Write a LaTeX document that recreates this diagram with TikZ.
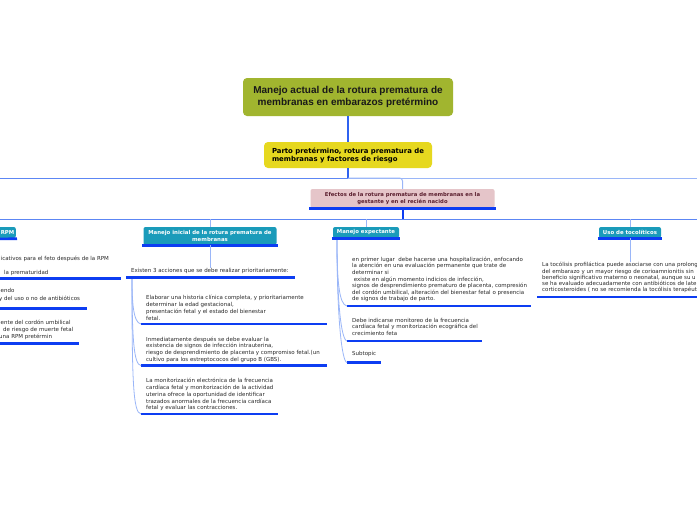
\documentclass[tikz,border=0pt]{standalone}
\usepackage{fontspec}
\setmainfont{DejaVu Sans}
\newfontfamily\titlefont{Liberation Sans}
\definecolor{titlegreen}{HTML}{A1B52F}
\definecolor{ylw}{HTML}{E6D81F}
\definecolor{pnk}{HTML}{E5C5C9}
\definecolor{pnktext}{HTML}{5A1E2E}
\definecolor{tealbg}{HTML}{1A9BBA}
\definecolor{ublue}{HTML}{0D3DF2}
\definecolor{mblue}{HTML}{2F62F0}
\definecolor{busblue}{HTML}{5C86F4}
\definecolor{lblue}{HTML}{9AB6F8}
\definecolor{txt}{HTML}{2A2A2A}
\tikzset{
  titlebox/.style={fill=titlegreen, rounded corners=4pt, minimum width=210pt, minimum height=38pt, align=center, inner sep=0pt, text=black!90,
    font=\titlefont\bfseries\fontsize{10}{11.5}\selectfont},
  ylwbox/.style={fill=ylw, rounded corners=4pt, minimum width=168pt, minimum height=26pt, align=left, inner sep=0pt, text=black,
    font=\bfseries\fontsize{6.9}{8}\selectfont},
  pnkbox/.style={fill=pnk, rounded corners=2pt, minimum width=184pt, minimum height=19pt, align=center, inner sep=0pt, text=pnktext,
    font=\bfseries\fontsize{5.3}{6.3}\selectfont},
  tealbox/.style={fill=tealbg, rounded corners=2pt, minimum height=11pt, align=center, inner sep=0pt, text=white,
    font=\bfseries\fontsize{5.4}{6.8}\selectfont},
  body/.style={anchor=north west, inner sep=0pt, align=left, text=txt, font=\fontsize{5.5}{6.7}\selectfont},
  uline/.style={draw=ublue, line width=2.6pt},
  trunk/.style={draw=mblue, line width=1.2pt},
  midline/.style={draw=busblue, line width=0.8pt},
  lightline/.style={draw=lblue, line width=1pt},
  conn/.style={draw=lblue, line width=0.8pt},
}
\begin{document}
\begin{tikzpicture}[x=1pt,y=-1pt]
\useasboundingbox (0,0) rectangle (697,520);
\fill[white] (0,0) rectangle (697,520);
\clip (0,0) rectangle (697,520);

% main nodes
\node[titlebox] (title) at (348,97) {Manejo actual de la rotura prematura de\\membranas en embarazos pretérmino};
\node[ylwbox] (yellow) at (348,155) {Parto pretérmino, rotura prematura de\\membranas y factores de riesgo};
\node[pnkbox] (pink) at (402.5,198.5) {Efectos de la rotura prematura de membranas en la\\gestante y en el recién nacido};

\node[tealbox, minimum width=133pt, minimum height=18pt] (inicial) at (210,236) {Manejo inicial de la rotura prematura de\\membranas};
\node[tealbox, minimum width=66pt] (expect) at (366,232.5) {Manejo expectante};
\node[tealbox, minimum width=62pt] (toco) at (630,232.5) {Uso de tocolíticos};
\fill[tealbg] (-10,227) rectangle (6,238);
\node[tealbox, anchor=east, inner xsep=1.5pt] (rpm) at (16,232.5) {RPM};

% trunk connectors
\coordinate (b1) at (348,178);
\coordinate (b1L) at (-5,178);
\coordinate (b1R) at (702,178);
\draw[trunk] (title.south) -- (yellow.north);
\draw[trunk] (yellow.south) -- (b1);
\draw[midline] (b1) -- (b1L);
\draw[lightline] (b1) -- (b1R);
\draw[lightline, rounded corners=3pt] (b1) -| (pink.north);

\coordinate (b2) at (402.5,219);
\coordinate (b2L) at (-5,219);
\coordinate (b2R) at (702,219);
\draw[ublue, line width=2pt] (pink.south) -- (b2);
\draw[midline] (b2L) -- (b2R);
\draw[lightline] (inicial.north |- b2) -- (inicial.north);
\draw[lightline] (expect.north |- b2) -- (expect.north);
\draw[lightline] (toco.north |- b2) -- (toco.north);

% box underlines
\draw[uline] ([xshift=-1pt]pink.south west) -- ([xshift=1pt]pink.south east);
\draw[uline] ([xshift=-1pt,yshift=-0.5pt]inicial.south west) -- ([xshift=1pt,yshift=-0.5pt]inicial.south east);
\draw[uline] ([xshift=-1pt,yshift=-0.5pt]expect.south west) -- ([xshift=1pt,yshift=-0.5pt]expect.south east);
\draw[uline] ([xshift=-1pt,yshift=-0.5pt]toco.south west) -- ([xshift=1pt,yshift=-0.5pt]toco.south east);
\coordinate (rpmL) at (-10,239);
\draw[uline] (rpmL) -- ([xshift=1pt,yshift=-0.5pt]rpm.south east);

% ---------- left column (clipped) ----------
\node[body] (l1) at (-1,256.3) {licativos para el feto después de la RPM};
\node[body] (l2) at (4,269.8) {la prematuridad};
\node[body] (l3) at (-1,288.3) {iendo\\[1.6pt]y del uso o no de antibióticos};
\node[body] (l4) at (-1,320) {iente del cordón umbilical\\\hspace*{4pt}de riesgo de muerte fetal\\una RPM pretérmin};
\coordinate (l2a) at (-5,278.5); \coordinate (l2b) at (121,278.5);
\coordinate (l3a) at (-5,308.3); \coordinate (l3b) at (87,308.3);
\coordinate (l4a) at (-5,343.3); \coordinate (l4b) at (79,343.3);
\draw[uline] (l2a) -- (l2b);
\draw[uline] (l3a) -- (l3b);
\draw[uline] (l4a) -- (l4b);

% ---------- Manejo inicial ----------
\node[body] (exist) at (131,268.3) {Existen 3 acciones que se debe realizar prioritariamente:};
\draw[conn] (inicial.south) -- (inicial.south |- exist.north);
\coordinate (exa) at (126,277.5); \coordinate (exb) at (295,277.5);
\draw[uline] (exa) -- (exb);
\coordinate (exP) at (132,279);

\node[body, font=\fontsize{5.5}{7}\selectfont] (m1) at (146,295) {Elaborar una historia clínica completa, y prioritariamente\\determinar la edad gestacional,\\presentación fetal y el estado del bienestar\\fetal.};
\node[body] (m2) at (146,336.6) {Inmediatamente después se debe evaluar la\\existencia de signos de infección intrauterina,\\riesgo de desprendimiento de placenta y compromiso fetal.(un\\cultivo para los estreptococos del grupo B (GBS).};
\node[body] (m3) at (146,378.3) {La monitorización electrónica de la frecuencia\\cardíaca fetal y monitorización de la actividad\\uterina ofrece la oportunidad de identificar\\trazados anormales de la frecuencia cardíaca\\fetal y evaluar las contracciones.};
\coordinate (m1a) at (141,324); \coordinate (m1b) at (327,324);
\coordinate (m2a) at (141,365.5); \coordinate (m2b) at (327,365.5);
\coordinate (m3a) at (141,414); \coordinate (m3b) at (278,414);
\draw[uline] (m1a) -- (m1b);
\draw[uline] (m2a) -- (m2b);
\draw[uline] (m3a) -- (m3b);
\draw[conn] (exP) .. controls (132,300) and (133,323) .. (m1a);
\draw[conn] (exP) .. controls (132,340) and (134,365) .. (m2a);
\draw[conn] (exP) .. controls (132,380) and (133,413) .. (m3a);

% ---------- Manejo expectante ----------
\node[body, font=\fontsize{5.5}{6.6}\selectfont] (e1) at (352,256.6) {en primer lugar\ \ debe hacerse una hospitalización, enfocando\\la atención en una evaluación permanente que trate de\\determinar si\\\ existe en algún momento indicios de infección,\\signos de desprendimiento prematuro de placenta, compresión\\del cordón umbilical, alteración del bienestar fetal o presencia\\de signos de trabajo de parto.};
\node[body, font=\fontsize{5.5}{6.4}\selectfont] (e2) at (352,318) {Debe indicarse monitoreo de la frecuencia\\cardíaca fetal y monitorización ecográfica del\\crecimiento feta};
\node[body] (e3) at (352,351.6) {Subtopic};
\coordinate (eP) at (337,240);
\coordinate (e1a) at (347,306); \coordinate (e1b) at (531,306);
\coordinate (e2a) at (347,341); \coordinate (e2b) at (482,341);
\coordinate (e3a) at (347,362.5); \coordinate (e3b) at (381,362.5);
\draw[uline] (e1a) -- (e1b);
\draw[uline] (e2a) -- (e2b);
\draw[uline] (e3a) -- (e3b);
\draw[conn] (eP) .. controls (337,280) and (339,305) .. (e1a);
\draw[conn] (eP) .. controls (337,300) and (341,340) .. (e2a);
\draw[conn] (eP) .. controls (337,320) and (342,362) .. (e3a);

% ---------- Uso de tocoliticos ----------
\node[body, font=\fontsize{5.5}{6.2}\selectfont] (t1) at (542,262.3) {La tocólisis profiláctica puede asociarse con una prolong\\del embarazo y un mayor riesgo de corioamnionitis sin\\beneficio significativo materno o neonatal, aunque su u\\se ha evaluado adecuadamente con antibióticos de later\\corticosteroides ( no se recomienda la tocólisis terapéut};
\draw[conn] (toco.south) -- (toco.south |- t1.north);
\coordinate (t1a) at (537,297); \coordinate (t1b) at (702,297);
\draw[uline] (t1a) -- (t1b);
\end{tikzpicture}
\end{document}
